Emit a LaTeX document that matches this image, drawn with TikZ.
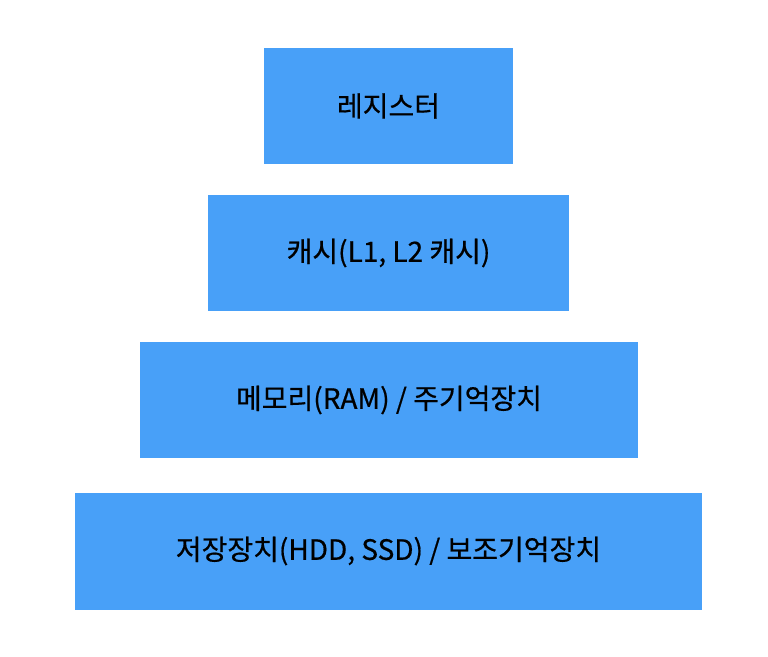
\documentclass[tikz,border=0pt]{standalone}
\usepackage{fontspec}
\newfontfamily\kr[FakeBold=0.6]{Noto Sans CJK KR}
\definecolor{boxblue}{HTML}{48A0F8}
\begin{document}
\begin{tikzpicture}[x=1pt,y=-1pt,
  layer/.style={fill=boxblue,draw=none,inner sep=0pt,font=\kr\fontsize{28}{34}\selectfont,text=black}]
\useasboundingbox (0,0) rectangle (768,656);
\node[layer,minimum width=249pt,minimum height=116pt] (reg) at (388.5,106) {레지스터};
\node[layer,minimum width=361pt,minimum height=116pt] (cache) at (388.5,253) {캐시(L1, L2 캐시)};
\node[layer,minimum width=498pt,minimum height=116pt] (mem) at (389,400) {메모리(RAM) / 주기억장치};
\node[layer,minimum width=627pt,minimum height=117pt] (disk) at (388.5,551) {저장장치(HDD, SSD) / 보조기억장치};
\end{tikzpicture}
\end{document}
